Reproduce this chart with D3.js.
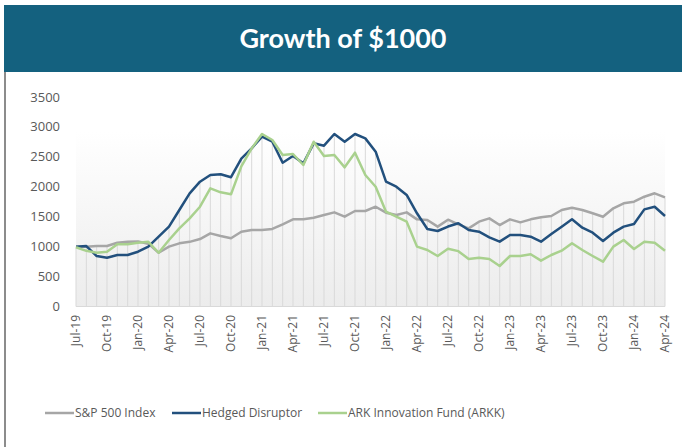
<!DOCTYPE html>
<html>
<head>
<meta charset="utf-8">
<script src="https://cdn.jsdelivr.net/npm/d3@7"></script>
<style>
  body { margin: 0; background: #fff; }
  svg { display: block; }
</style>
</head>
<body>
<div id="chart"></div>
<script>
// months Jul-19 .. Apr-24
const months = ["Jul-19","Aug-19","Sep-19","Oct-19","Nov-19","Dec-19","Jan-20","Feb-20","Mar-20","Apr-20","May-20","Jun-20",
  "Jul-20","Aug-20","Sep-20","Oct-20","Nov-20","Dec-20","Jan-21","Feb-21","Mar-21","Apr-21","May-21","Jun-21",
  "Jul-21","Aug-21","Sep-21","Oct-21","Nov-21","Dec-21","Jan-22","Feb-22","Mar-22","Apr-22","May-22","Jun-22",
  "Jul-22","Aug-22","Sep-22","Oct-22","Nov-22","Dec-22","Jan-23","Feb-23","Mar-23","Apr-23","May-23","Jun-23",
  "Jul-23","Aug-23","Sep-23","Oct-23","Nov-23","Dec-23","Jan-24","Feb-24","Mar-24","Apr-24"];

const sp500 = [1000,1000,1010,1010,1066,1080,1085,1050,898,1000,1055,1080,
  1127,1222,1177,1139,1250,1278,1278,1295,1373,1456,1456,1484,
  1528,1573,1500,1595,1595,1667,1567,1528,1573,1456,1445,1334,
  1450,1373,1306,1417,1473,1361,1456,1406,1456,1490,1512,1612,
  1651,1612,1557,1500,1640,1724,1751,1834,1891,1824];

const hedged = [1000,1010,843,815,860,860,915,1000,1166,1333,1612,1890,
  2085,2197,2210,2160,2470,2642,2836,2753,2402,2514,2392,2726,
  2687,2882,2753,2882,2809,2586,2085,2001,1863,1557,1295,1261,
  1336,1390,1278,1250,1156,1083,1194,1194,1167,1083,1211,1334,
  1456,1317,1233,1094,1233,1334,1378,1623,1667,1512];

const arkk = [990,930,898,915,1039,1040,1066,1080,898,1111,1306,1473,
  1667,1974,1907,1874,2340,2642,2882,2781,2531,2548,2364,2753,
  2514,2531,2325,2570,2197,2001,1584,1500,1417,1000,944,844,
  965,925,794,816,794,677,844,844,872,766,860,932,
  1056,944,844,749,1000,1111,961,1083,1066,932];

const yTicks = [0,500,1000,1500,2000,2500,3000,3500];

const series = [
  { name: "S&P 500 Index", values: sp500, color: "#a6a6a6" },
  { name: "Hedged Disruptor", values: hedged, color: "#22507d" },
  { name: "ARK Innovation Fund (ARKK)", values: arkk, color: "#a9d18e" }
];

const width = 682, height = 447;
const svg = d3.select("#chart").append("svg")
  .attr("width", width)
  .attr("height", height);

// title bar
svg.append("rect")
  .attr("x", 4).attr("y", 5)
  .attr("width", width - 4).attr("height", 67)
  .attr("fill", "#14617f");

svg.append("text")
  .attr("x", 343).attr("y", 48)
  .attr("text-anchor", "middle")
  .attr("fill", "#fff")
  .attr("font-family", "Lato, 'Open Sans', sans-serif")
  .attr("font-weight", "bold")
  .attr("font-size", "27px")
  .text("Growth of $1000");

// left border of the box
svg.append("line")
  .attr("x1", 5).attr("x2", 5)
  .attr("y1", 72).attr("y2", height)
  .attr("stroke", "#8c8c8c")
  .attr("stroke-width", 2);

const x = d3.scalePoint()
  .domain(months)
  .range([76, 665]);

const y = d3.scaleLinear()
  .domain([0, 3500])
  .range([306.5, 97]);

// gradient plot background
const defs = svg.append("defs");
const grad = defs.append("linearGradient")
  .attr("id", "bg").attr("x1", 0).attr("x2", 0).attr("y1", 0).attr("y2", 1);
grad.append("stop").attr("offset", "0%").attr("stop-color", "#ffffff");
grad.append("stop").attr("offset", "100%").attr("stop-color", "#ececec");

svg.append("rect")
  .attr("x", x(months[0]))
  .attr("y", 132)
  .attr("width", x(months[months.length - 1]) - x(months[0]))
  .attr("height", y(0) - 132)
  .attr("fill", "url(#bg)");

// drop lines from highest series down to the axis
svg.append("g")
  .selectAll("line")
  .data(months)
  .join("line")
  .attr("x1", d => x(d)).attr("x2", d => x(d))
  .attr("y1", y(0))
  .attr("y2", (d, i) => y(Math.max(sp500[i], hedged[i], arkk[i])))
  .attr("stroke", "#d9d9d9")
  .attr("stroke-width", 1);

svg.append("line")
  .attr("x1", x(months[0])).attr("x2", x(months[months.length - 1]))
  .attr("y1", y(0)).attr("y2", y(0))
  .attr("stroke", "#d9d9d9");

// y axis labels
svg.append("g")
  .selectAll("text")
  .data(yTicks)
  .join("text")
  .attr("x", 60)
  .attr("y", d => y(d))
  .attr("dy", "0.35em")
  .attr("text-anchor", "end")
  .attr("fill", "#595959")
  .attr("font-family", "'Open Sans', sans-serif")
  .attr("font-size", "13px")
  .text(d => d);

// x axis labels, every 3rd month
svg.append("g")
  .selectAll("text")
  .data(months.filter((m, i) => i % 3 === 0))
  .join("text")
  .attr("transform", d => `translate(${x(d)},315) rotate(-90)`)
  .attr("dy", "0.35em")
  .attr("text-anchor", "end")
  .attr("fill", "#595959")
  .attr("font-family", "'Open Sans', sans-serif")
  .attr("font-size", "12px")
  .text(d => d);

// lines
const line = d3.line()
  .x((d, i) => x(months[i]))
  .y(d => y(d));

svg.append("g")
  .selectAll("path")
  .data(series)
  .join("path")
  .attr("d", d => line(d.values))
  .attr("fill", "none")
  .attr("stroke", d => d.color)
  .attr("stroke-width", 2.5)
  .attr("stroke-linejoin", "round");

// legend
const legendX = [45, 172, 318];
const legend = svg.append("g")
  .selectAll("g")
  .data(series)
  .join("g")
  .attr("transform", (d, i) => `translate(${legendX[i]},413)`);

legend.append("line")
  .attr("x1", 0).attr("x2", 29)
  .attr("stroke", d => d.color)
  .attr("stroke-width", 2.5);

legend.append("text")
  .attr("x", 30)
  .attr("dy", "0.35em")
  .attr("fill", "#595959")
  .attr("font-family", "'Open Sans', sans-serif")
  .attr("font-size", "12px")
  .text(d => d.name);
</script>
</body>
</html>
